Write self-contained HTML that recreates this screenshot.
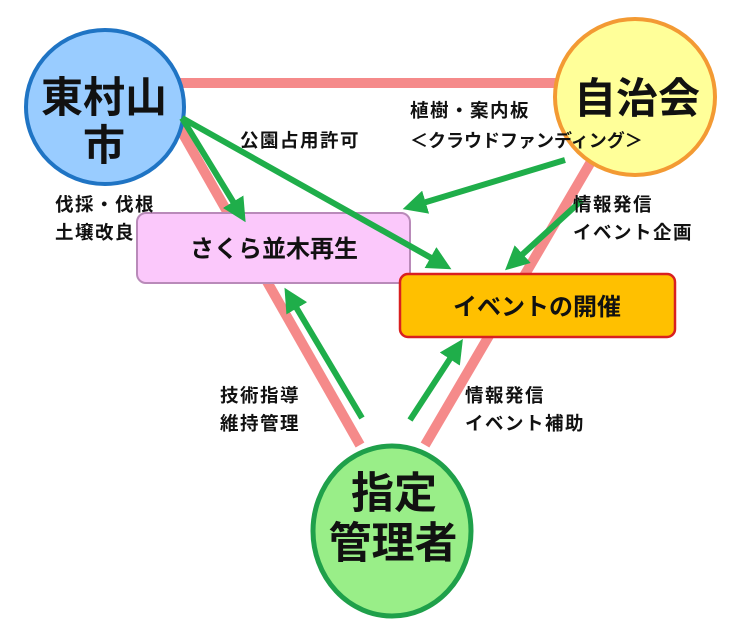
<!DOCTYPE html>
<html><head><meta charset="utf-8"><style>
html,body{margin:0;padding:0;background:#fff;}
svg{display:block;font-family:"Liberation Sans","Noto Sans CJK JP",sans-serif;}
</style></head><body>
<svg width="736" height="619" viewBox="0 0 736 619" xmlns="http://www.w3.org/2000/svg">
<defs>
<marker id="ah" markerWidth="4" markerHeight="4" refX="2.2" refY="2" orient="auto" markerUnits="strokeWidth">
<path d="M0,0 L4,2 L0,4 Z" fill="#1fae4a"/>
</marker>
</defs>
<g stroke="#f58a8a" stroke-width="10" fill="none">
<line x1="180" y1="83" x2="560" y2="83"/>
<line x1="175" y1="120" x2="360" y2="445"/>
<line x1="592" y1="160" x2="425" y2="445"/>
</g>
<rect x="137" y="213" width="273" height="70" rx="9" fill="#fbc8fb" stroke="#b98ab9" stroke-width="2"/>
<rect x="400" y="274" width="275" height="63" rx="8" fill="#ffc000" stroke="#d92020" stroke-width="2.5"/>
<ellipse cx="105" cy="107" rx="79" ry="77" fill="#99ccff" stroke="#1f74c4" stroke-width="4"/>
<ellipse cx="635" cy="97" rx="80" ry="78" fill="#ffff99" stroke="#f39a33" stroke-width="4"/>
<ellipse cx="392" cy="531" rx="79" ry="85" fill="#99ee88" stroke="#1fa04a" stroke-width="5"/>
<g stroke="#1fae4a" stroke-width="6" fill="none" marker-end="url(#ah)">
<line x1="182" y1="118" x2="240" y2="213"/>
<line x1="182" y1="118" x2="442" y2="264"/>
<line x1="565" y1="160" x2="413" y2="206"/>
<line x1="582" y1="200" x2="513" y2="263"/>
<line x1="362" y1="418" x2="290" y2="297"/>
<line x1="410" y1="420" x2="457" y2="348"/>
</g>
<g font-weight="bold" fill="#111" text-anchor="middle">
<text x="104" y="112" font-size="42">東村山</text>
<text x="104" y="160" font-size="42">市</text>
<text x="637" y="113" font-size="42">自治会</text>
<text x="394" y="508" font-size="43">指定</text>
<text x="393" y="558" font-size="43">管理者</text>
<text x="274" y="257" font-size="24">さくら並木再生</text>
<text x="537" y="315" font-size="24">イベントの開催</text>
</g>
<g font-size="18.5" font-weight="bold" fill="#111" letter-spacing="1.5">
<text x="240" y="147">公園占用許可</text>
<text x="410" y="117">植樹・案内板</text>
<text x="410" y="147" font-size="18" letter-spacing="0">＜クラウドファンディング＞</text>
<text x="55" y="211">伐採・伐根</text>
<text x="55" y="239">土壌改良</text>
<text x="573" y="211">情報発信</text>
<text x="573" y="239">イベント企画</text>
<text x="220" y="402">技術指導</text>
<text x="220" y="430">維持管理</text>
<text x="465" y="402">情報発信</text>
<text x="465" y="430">イベント補助</text>
</g>
</svg>
</body></html>
